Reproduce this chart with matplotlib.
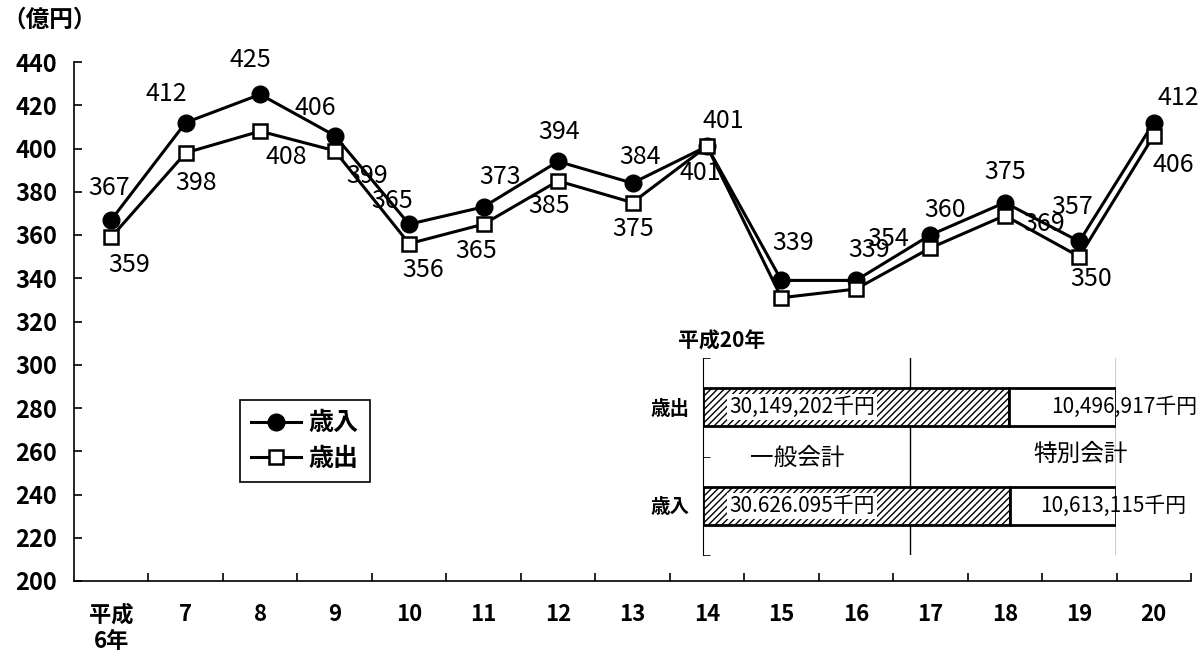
import matplotlib
matplotlib.use('Agg')
import matplotlib.pyplot as plt
import numpy as np
from matplotlib import rcParams

# 年度（平成）
years = ['平成\n6年', '7', '8', '9', '10', '11', '12', '13', '14',
         '15', '16', '17', '18', '19', '20']
# 億円
revenue = [367, 412, 425, 406, 365, 373, 394, 384, 401, 339, 339, 360, 375, 357, 412]
expense = [359, 398, 408, 399, 356, 365, 385, 375, 401, 331, 335, 354, 369, 350, 406]

# 平成20年 内訳（千円）
bar_cats = ['歳入', '歳出']
general = [30626095, 30149202]
special = [10613115, 10496917]
general_txt = ['30.626.095千円', '30,149,202千円']
special_txt = ['10,613,115千円', '10,496,917千円']

# ラベルの位置（ピクセル）, None は非表示
rev_off = [(-2, 32), (-19, 29), (-10, 34), (-19, 28), (-17, 23), (17, 30), (1, 29), (8, 26),
           (16, 25), (12, 37), (13, 30), (15, 25), (0, 31), (-7, 34), (25, 25)]
exp_off = [(18, -28), (10, -30), (26, -26), (32, -25), (14, -26), (-7, -27), (-9, -25), (1, -26),
           (-7, -27), None, None, (-42, 9), (39, -8), (12, -22), (20, -29)]
special_x = [0.993, 1.02]  # 右側ラベルの横位置

if __name__ == '__main__':
    config = {
        "font.family": ['DejaVu Sans Condensed', 'Noto Sans CJK JP', 'DejaVu Sans'],
        "font.size": 14,
        "hatch.linewidth": 1.0,
    }
    rcParams.update(config)
    cjk = ['Noto Sans CJK JP', 'DejaVu Sans']

    fig = plt.figure(figsize=(12.03, 6.53), dpi=100)
    ax = fig.add_axes([74 / 1203, 72 / 653, 1117 / 1203, 519 / 653])

    x = np.arange(len(years))
    ax.plot(x, revenue, color='black', lw=2.2, marker='o', markersize=12,
            markerfacecolor='black', markeredgecolor='black', label='歳入', zorder=3)
    ax.plot(x, expense, color='black', lw=2.2, marker='s', markersize=10,
            markerfacecolor='white', markeredgecolor='black', markeredgewidth=1.8,
            label='歳出', zorder=4)

    for i in range(len(x)):
        if rev_off[i] is not None:
            ax.annotate(str(revenue[i]), (x[i], revenue[i]), xytext=rev_off[i],
                        textcoords='offset pixels', ha='center', va='center', fontsize=18)
        if exp_off[i] is not None:
            ax.annotate(str(expense[i]), (x[i], expense[i]), xytext=exp_off[i],
                        textcoords='offset pixels', ha='center', va='center', fontsize=18)

    ax.set_xlim(-0.5, len(years) - 0.5)
    ax.set_ylim(200, 440)
    ax.yaxis.set_major_locator(plt.MultipleLocator(20))
    ax.tick_params(axis='y', direction='in', length=6, width=1.2, pad=12, labelsize=17)
    for tx in ax.get_yticklabels():
        tx.set_fontweight('bold')

    ax.set_xticks(x, years, fontsize=16, fontweight='bold', va='top')
    ax.set_xticks(x + 0.5, minor=True)
    ax.tick_params(axis='x', which='major', length=0, pad=16)
    ax.tick_params(axis='x', which='minor', direction='in', length=6, width=1.2)

    ax.spines['top'].set_visible(False)
    ax.spines['right'].set_visible(False)
    ax.spines['left'].set_linewidth(1.2)
    ax.spines['bottom'].set_linewidth(1.2)

    fig.text(2 / 1203, 1 - 20 / 653, '（億円）', fontsize=17, fontweight='bold',
             ha='left', va='center', family=cjk)

    leg = ax.legend(loc='upper left', bbox_to_anchor=(166 / 1117, 181 / 519),
                    prop={'size': 18, 'weight': 'bold', 'family': cjk}, fancybox=False,
                    edgecolor='black', framealpha=1, handlelength=2.0, borderaxespad=0,
                    borderpad=0.45, labelspacing=0.45, handletextpad=0.3)
    leg.get_frame().set_linewidth(1.2)

    # 平成20年 一般会計・特別会計
    ax2 = fig.add_axes([703 / 1203, 98 / 653, 413 / 1203, 197 / 653])
    ax2.patch.set_alpha(0)
    tot = np.array(general) + np.array(special)
    g_share = np.array(general) / tot
    s_share = np.array(special) / tot
    yb = np.arange(len(bar_cats)) + 0.5
    ax2.barh(yb, g_share, height=0.39, color='white', edgecolor='black',
             hatch='/////', linewidth=2, zorder=3)
    ax2.barh(yb, s_share, left=g_share, height=0.39, color='white',
             edgecolor='black', linewidth=2, zorder=3)
    for i in range(len(bar_cats)):
        ax2.text(0.24, yb[i], general_txt[i], ha='center', va='center', fontsize=15,
                 zorder=5, bbox=dict(facecolor='white', edgecolor='none', pad=1.5))
        ax2.text(special_x[i], yb[i], special_txt[i], ha='center', va='center', fontsize=15,
                 zorder=5)
    ax2.text(0.228, 0.98, '一般会計', ha='center', va='center', fontsize=17, family=cjk)
    ax2.text(0.913, 1.02, '特別会計', ha='center', va='center', fontsize=17, family=cjk)
    ax2.text(-0.06, 2.17, '平成20年', ha='left', va='center', fontsize=15,
             fontweight='bold', family=cjk)

    ax2.set_xlim(0, 1)
    ax2.set_ylim(0, 2)
    ax2.set_xticks([])
    ax2.axvline(0.5, color='black', lw=1, zorder=1)
    ax2.axvline(1.0, color='black', lw=1, zorder=1)
    ax2.set_yticks(yb, bar_cats, fontsize=14, fontweight='bold', family=cjk)
    ax2.set_yticks([0, 1, 2], minor=True)
    ax2.tick_params(axis='y', which='major', length=0, pad=10)
    ax2.tick_params(axis='y', which='minor', direction='in', length=5)
    for s in ['top', 'right', 'bottom']:
        ax2.spines[s].set_visible(False)

    plt.savefig('out.png', dpi=100)
